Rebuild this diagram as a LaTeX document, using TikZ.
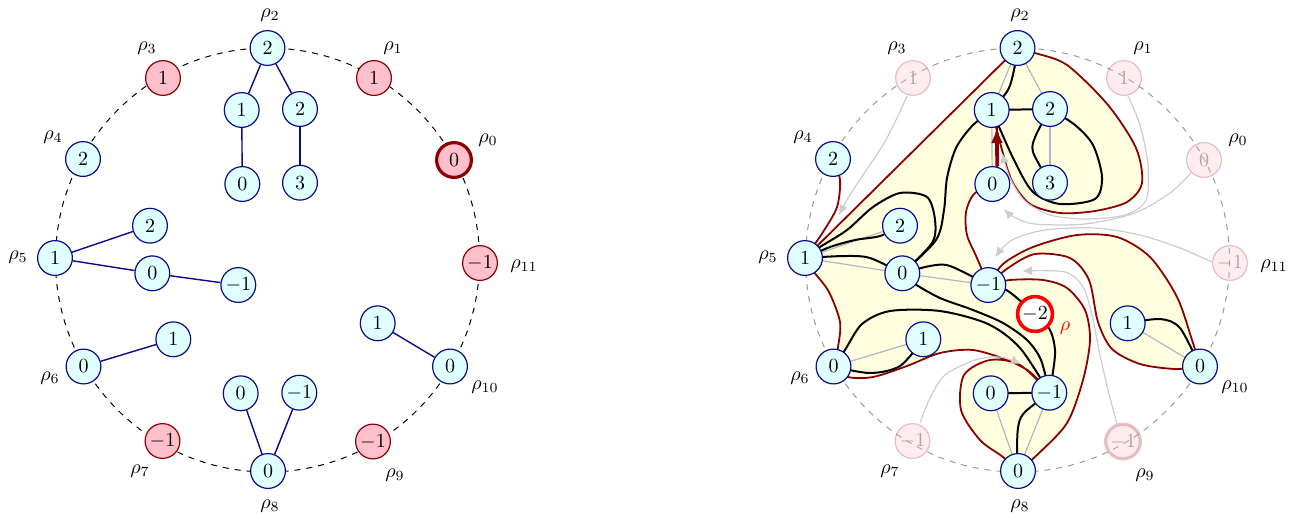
\documentclass[tikz,border=0pt]{standalone}
\usetikzlibrary{arrows.meta}
\definecolor{ncyan}{RGB}{224,255,255}
\definecolor{nnavy}{RGB}{10,10,140}
\definecolor{npink}{RGB}{255,192,203}
\definecolor{dred}{RGB}{139,0,0}
\definecolor{lyel}{RGB}{255,255,224}
\definecolor{tgray}{RGB}{180,180,198}
\definecolor{agray}{RGB}{205,205,205}
\begin{document}
\begin{tikzpicture}[x=0.5pt,y=-0.5pt,
  vnode/.style={circle, inner sep=0pt, minimum size=17.4pt, line width=0.6pt},
  cnode/.style={vnode, draw=nnavy, fill=ncyan},
  pnode/.style={vnode, draw=dred, fill=npink},
  fnode/.style={vnode, draw=dred, draw opacity=0.22, fill=npink, fill opacity=0.3, text=black!35, text opacity=1},
  rnode/.style={vnode, draw=red, fill=white, line width=1.8pt},
  lab/.style={inner sep=0pt},
  tedge/.style={draw=nnavy, line width=0.7pt},
  gedge/.style={draw=tgray, line width=0.6pt},
  blk/.style={draw=black, line width=1pt},
  rbound/.style={draw=dred, line width=0.9pt},
  garrow/.style={draw=agray, line width=0.6pt, -{Latex[length=5pt,width=4.5pt]}},
  ring/.style={dashed, line width=0.5pt}
]
\useasboundingbox (0,0) rectangle (1301,521);

% ================= LEFT =================
\coordinate (LC) at (267.5,260);
\draw[ring] (LC) circle[radius=212];

\node[pnode, line width=1.6pt] (L0) at (454,160) {$0$};
\node[pnode] (L1) at (374,78) {$1$};
\node[cnode] (L2) at (267.5,48) {$2$};
\node[pnode] (L3) at (163,78) {$1$};
\node[cnode] (L4) at (83,159) {$2$};
\node[cnode] (L5) at (55,258) {$1$};
\node[cnode] (L6) at (83.5,366.5) {$0$};
\node[pnode] (L7) at (162.5,441) {$-1$};
\node[cnode] (L8) at (268,471) {$0$};
\node[pnode] (L9) at (373,441.5) {$-1$};
\node[cnode] (L10) at (450,366.5) {$0$};
\node[pnode] (L11) at (480,263) {$-1$};

\node[cnode] (La) at (241.7,110) {$1$};
\node[cnode] (Lb) at (300,109) {$2$};
\node[cnode] (Lc) at (242.3,184) {$0$};
\node[cnode] (Ld) at (300,182.7) {$3$};
\node[cnode] (Le) at (150,225.7) {$2$};
\node[cnode] (Lf) at (152.3,273.3) {$0$};
\node[cnode] (Lg) at (238.3,285) {$-1$};
\node[cnode] (Lh) at (173.3,339.3) {$1$};
\node[cnode] (Li) at (240.7,393.3) {$0$};
\node[cnode] (Lj) at (299.3,392.7) {$-1$};
\node[cnode] (Lk) at (377.7,323.3) {$1$};

\draw[tedge] (L2) -- (La);
\draw[tedge] (L2) -- (Lb);
\draw[tedge] (La) -- (Lc);
\draw[tedge] (Lb) -- (Ld);
\draw[tedge] (L5) -- (Le);
\draw[tedge] (L5) -- (Lf);
\draw[tedge] (Lf) -- (Lg);
\draw[tedge] (L6) -- (Lh);
\draw[tedge] (L8) -- (Li);
\draw[tedge] (L8) -- (Lj);
\draw[tedge] (L10) -- (Lk);

\node[lab] (L0l) at (488,140) {$\rho_0$};
\node[lab] (L1l) at (393,48) {$\rho_1$};
\node[lab] (L2l) at (270,15) {$\rho_2$};
\node[lab] (L3l) at (147,48) {$\rho_3$};
\node[lab] (L4l) at (53,137) {$\rho_4$};
\node[lab] (L5l) at (18,257) {$\rho_5$};
\node[lab] (L6l) at (50,378) {$\rho_6$};
\node[lab] (L7l) at (140,471) {$\rho_7$};
\node[lab] (L8l) at (270,506) {$\rho_8$};
\node[lab] (L9l) at (395,475) {$\rho_9$};
\node[lab] (L10l) at (485,387) {$\rho_{10}$};
\node[lab] (L11l) at (524,266) {$\rho_{11}$};

% ================= RIGHT =================
\coordinate (RC) at (1017.5,260);
\draw[ring, draw=black!40] (RC) circle[radius=212];

\path
  (1204,160) coordinate (p0) (1124,78) coordinate (p1) (1017.5,48) coordinate (p2)
  (913,78) coordinate (p3) (833,159) coordinate (p4) (805,258) coordinate (p5)
  (833.5,366.5) coordinate (p6) (912.5,441) coordinate (p7) (1018,471) coordinate (p8)
  (1123,441.5) coordinate (p9) (1200,366.5) coordinate (p10) (1230,263) coordinate (p11)
  (991.7,110) coordinate (pa) (1050,109) coordinate (pb) (992.3,184) coordinate (pc)
  (1050,182.7) coordinate (pd) (900,225.7) coordinate (pe) (902.3,273.3) coordinate (pf)
  (988.3,285) coordinate (pg) (923.3,339.3) coordinate (ph) (990.7,393.3) coordinate (pi)
  (1049.3,392.7) coordinate (pj) (1127.7,323.3) coordinate (pk) (1035,314) coordinate (pm);

\node[fnode] (R0) at (p0) {$0$};
\node[fnode] (R1) at (p1) {$1$};
\node[fnode] (R3) at (p3) {$1$};
\node[fnode] (R7) at (p7) {$-1$};
\node[fnode, line width=1.6pt] (R9) at (p9) {$-1$};
\node[fnode] (R11) at (p11) {$-1$};

% yellow region with dark red boundary
\filldraw[fill=lyel, rbound]
  (p5) -- (p2)
  -- plot[smooth] coordinates {(p2) (1035,53) (1067,65) (1108,105) (1136,148) (1142,183) (1127,202) (1095,211) (1060,213) (1030,204) (1012,181) (1002,150) (pa)}
  -- ([xshift=2.5pt]pa) -- ([xshift=2.5pt]pc) -- (pc)
  -- plot[smooth] coordinates {(pc) (974,194) (966,212) (967,235) (977,258) (pg)}
  -- plot[smooth] coordinates {(pg) (1003,264) (1033,247) (1077,235) (1117,237) (1150,257) (1177,297) (1192,340) (p10)}
  -- plot[smooth] coordinates {(p10) (1175,369) (1140,364) (1112,349) (1098,322) (1089,280) (1070,258) (1035,254) (1008,268) (pg)}
  -- plot[smooth] coordinates {(pg) (1010,280) (1043,280) (1067,288) (1085,310) (1090,340) (1083,380) (1067,423) (1037,455) (p8)}
  -- plot[smooth] coordinates {(p8) (1003,457) (980,440) (961,410) (964,375) (990,360) (1020,365) (pj)}
  -- plot[smooth] coordinates {(pj) (1030,372) (1007,360) (973,350) (940,353) (907,366) (873,377) (848,377) (p6)}
  -- plot[smooth] coordinates {(p6) (838,347) (840,322) (829,292) (814,272) (p5)}
  -- cycle;
\draw[rbound] plot[smooth] coordinates {(p4) (840,180) (837,207) (823,232) (p5)};

% gray tree edges
\draw[gedge] (p2) -- (pa);
\draw[gedge] (p2) -- (pb);
\draw[gedge] (pa) -- (pc);
\draw[gedge] (pb) -- (pd);
\draw[gedge] (p5) -- (pe);
\draw[gedge] (p5) -- (pf);
\draw[gedge] (pf) -- (pg);
\draw[gedge] (p6) -- (ph);
\draw[gedge] (p8) -- (pi);
\draw[gedge] (p8) -- (pj);
\draw[gedge] (p10) -- (pk);

% gray arrows
\draw[garrow] plot[smooth] coordinates {(907,96) (897,118) (883,145) (865,172) (848,198) (839,215)};
\draw[garrow] plot[smooth] coordinates {(1128,96) (1140,125) (1148,165) (1146,200) (1125,215) (1085,219) (1050,215) (1025,201) (1010,178) (1002,153)};
\draw[garrow] plot[smooth] coordinates {(1192,172) (1170,193) (1135,213) (1085,224) (1035,224) (1014,217) (1004,209)};
\draw[garrow] plot[smooth] coordinates {(1212,262) (1180,248) (1140,235) (1095,228) (1045,230) (1012,240) (995,257)};
\draw[garrow] plot[smooth] coordinates {(1117,424) (1108,390) (1100,355) (1092,315) (1083,287) (1065,272) (1022,271)};
\draw[garrow] plot[smooth] coordinates {(920,423) (930,398) (945,375) (975,360) (1000,357) (1021,364)};

% black curves
\draw[blk] plot[smooth] coordinates {(p2) (1014,70) (1008,90) (pa)};
\draw[blk] (pa) -- (pb);
\draw[blk] plot[smooth] coordinates {(pb) (1036,135) (1033,152) (pd)};
\draw[blk] plot[smooth] coordinates {(pb) (1075,125) (1093,145) (1102,177) (1095,199) (1060,204) (1033,192) (1014,160) (pa)};
\draw[blk] plot[smooth] coordinates {(pa) (972,126) (956,148) (947,178) (944,210) (936,240) (pf)};
\draw[blk] plot[smooth] coordinates {(p5) (820,247) (847,230) (873,207) (900,193) (927,197) (935,220) (932,243) (pf)};
\draw[blk] plot[smooth] coordinates {(p5) (830,247) (855,240) (880,236) (pe)};
\draw[blk] plot[smooth] coordinates {(p5) (845,256) (870,258) (pf)};
\draw[blk] plot[smooth] coordinates {(pf) (930,266) (950,266) (pg)};
\draw[blk] plot[smooth] coordinates {(pf) (915,284) (940,298) (973,310) (1003,323) (1027,340) (1041,360) (pj)};
\draw[blk] plot[smooth] coordinates {(pg) (1008,291) (pm)};
\draw[blk] plot[smooth] coordinates {(pm) (1050,330) (1055,350) (1053,372) (pj)};
\draw[blk] plot[smooth] coordinates {(p6) (845,350) (862,324) (890,311) (940,311) (988,324) (1020,348) (pj)};
\draw[blk] plot[smooth] coordinates {(p6) (870,373) (900,366) (ph)};
\draw[blk] (pi) -- (pj);
\draw[blk] plot[smooth] coordinates {(p8) (1017,455) (1018,428) (1024,413) (pj)};
\draw[blk] plot[smooth] coordinates {(pk) (1160,319) (1180,328) (p10)};

% nodes (on top)
\node[cnode] (R2) at (p2) {$2$};
\node[cnode] (R4) at (p4) {$2$};
\node[cnode] (R5) at (p5) {$1$};
\node[cnode] (R6) at (p6) {$0$};
\node[cnode] (R8) at (p8) {$0$};
\node[cnode] (R10) at (p10) {$0$};
\node[cnode] (Ra) at (pa) {$1$};
\node[cnode] (Rb) at (pb) {$2$};
\node[cnode] (Rc) at (pc) {$0$};
\node[cnode] (Rd) at (pd) {$3$};
\node[cnode] (Re) at (pe) {$2$};
\node[cnode] (Rf) at (pf) {$0$};
\node[cnode] (Rg) at (pg) {$-1$};
\node[cnode] (Rh) at (ph) {$1$};
\node[cnode] (Ri) at (pi) {$0$};
\node[cnode] (Rj) at (pj) {$-1$};
\node[cnode] (Rk) at (pk) {$1$};
\node[rnode] (Rm) at (pm) {$-2$};
\node[lab, text=red] (Rml) at (1065,328) {$\rho$};

% red arrow
\draw[dred, line width=1.9pt, -{Latex[length=7.5pt,width=6pt]}] ([xshift=2.5pt]Rc.north) -- ([xshift=2.5pt]Ra.south);

\node[lab] (R0l) at (1238,140) {$\rho_0$};
\node[lab] (R1l) at (1143,48) {$\rho_1$};
\node[lab] (R2l) at (1020,15) {$\rho_2$};
\node[lab] (R3l) at (897,48) {$\rho_3$};
\node[lab] (R4l) at (803,137) {$\rho_4$};
\node[lab] (R5l) at (768,257) {$\rho_5$};
\node[lab] (R6l) at (800,378) {$\rho_6$};
\node[lab] (R7l) at (890,471) {$\rho_7$};
\node[lab] (R8l) at (1020,506) {$\rho_8$};
\node[lab] (R9l) at (1145,475) {$\rho_9$};
\node[lab] (R10l) at (1235,387) {$\rho_{10}$};
\node[lab] (R11l) at (1274,266) {$\rho_{11}$};
\end{tikzpicture}
\end{document}
